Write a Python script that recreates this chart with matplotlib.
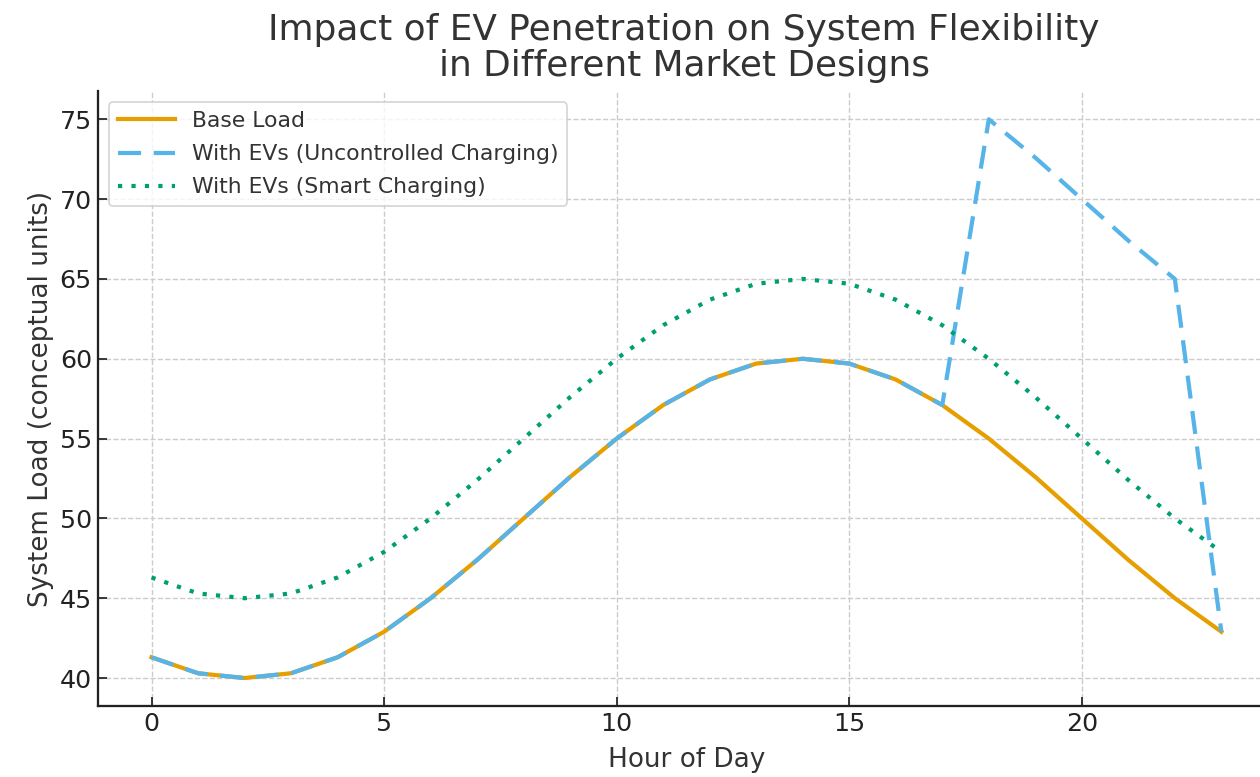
import numpy as np
import matplotlib
matplotlib.use("Agg")
import matplotlib.pyplot as plt

# hourly values
hours = list(range(24))
base_load = [41.3, 40.3, 40.0, 40.3, 41.3, 42.9, 45.0, 47.4, 50.0, 52.6, 55.0, 57.1,
             58.7, 59.7, 60.0, 59.7, 58.7, 57.1, 55.0, 52.6, 50.0, 47.4, 45.0, 42.9]
uncontrolled = [41.3, 40.3, 40.0, 40.3, 41.3, 42.9, 45.0, 47.4, 50.0, 52.6, 55.0, 57.1,
                58.7, 59.7, 60.0, 59.7, 58.7, 57.1, 75.0, 72.6, 70.0, 67.4, 65.0, 42.9]
smart = [46.3, 45.3, 45.0, 45.3, 46.3, 47.9, 50.0, 52.4, 55.0, 57.6, 60.0, 62.1,
         63.7, 64.7, 65.0, 64.7, 63.7, 62.1, 60.0, 57.6, 55.0, 52.4, 50.0, 47.9]

fig = plt.figure(figsize=(10, 6.1667), dpi=126)
ax = fig.add_axes([0.0778, 0.0914, 0.934, 0.791])

ax.plot(hours, base_load, color='#E69F00', lw=2.4, label='Base Load')
ax.plot(hours, uncontrolled, color='#56B4E9', lw=2.4, ls=(0, (5.5, 3)),
        label='With EVs (Uncontrolled Charging)')
ax.plot(hours, smart, color='#009E73', lw=2.4, ls=(0, (1, 2.2)),
        label='With EVs (Smart Charging)')

ax.set_xlim(-1.15, 24.15)
ax.set_ylim(38.25, 76.75)
ax.set_xticks([0, 5, 10, 15, 20])
ax.set_yticks([40, 45, 50, 55, 60, 65, 70, 75])
ax.tick_params(direction='in', labelsize=14.5, length=5, width=1, colors='#222222')
ax.grid(color='#cccccc', linestyle='--', linewidth=0.8)
ax.set_axisbelow(True)
for s in ['top', 'right']:
    ax.spines[s].set_visible(False)
for s in ['left', 'bottom']:
    ax.spines[s].set_linewidth(1.3)
    ax.spines[s].set_color('#222222')

ax.set_xlabel('Hour of Day', fontsize=15, color='#333333', labelpad=6)
ax.set_ylabel('System Load (conceptual units)', fontsize=15, color='#333333', labelpad=3)
fig.suptitle('Impact of EV Penetration on System Flexibility\nin Different Market Designs',
             fontsize=20.5, color='#333333', x=0.543, y=0.983, linespacing=1.08)
leg = ax.legend(loc='upper left', fontsize=12.5, frameon=True, handlelength=2.6,
                labelspacing=0.6)
for t in leg.get_texts():
    t.set_color('#333333')

fig.savefig('out.png', dpi=126)
